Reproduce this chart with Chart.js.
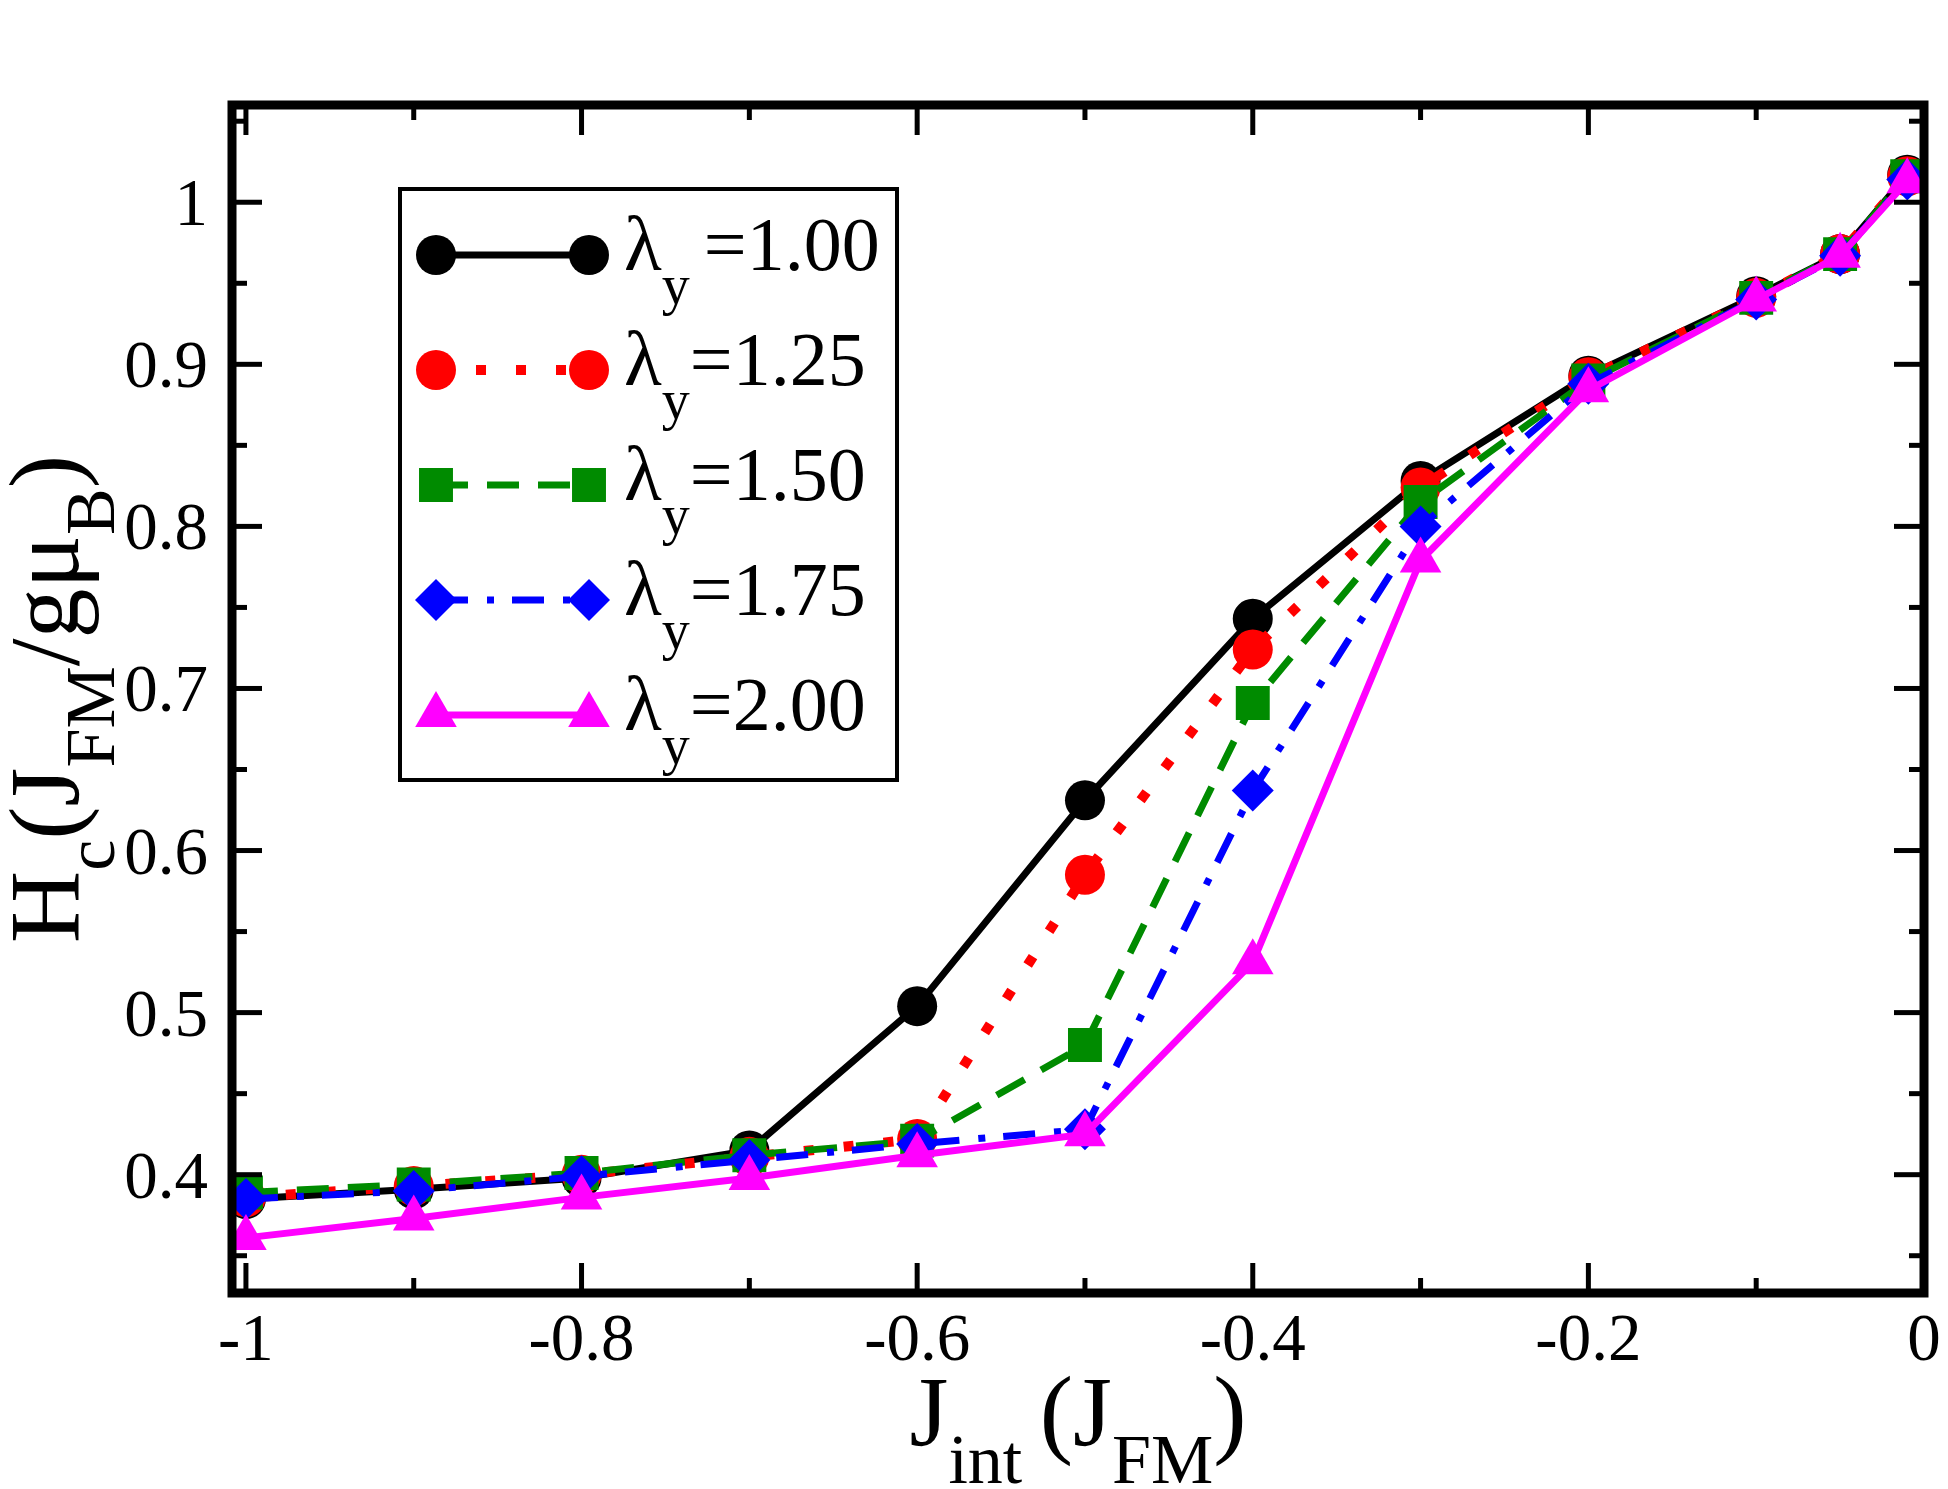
<!DOCTYPE html>
<html>
<head>
<meta charset="utf-8">
<script src="https://cdn.jsdelivr.net/npm/chart.js@4.4.0/dist/chart.umd.min.js"></script>
<style>
  html, body { margin: 0; padding: 0; background: #fff; }
  #wrap { width: 1948px; height: 1489px; }
</style>
</head>
<body>
<div id="wrap"><canvas id="myChart" width="1948" height="1489"></canvas></div>
<script>
// J_int values (x) and H_c for each lambda_y
const jInt  = [-1, -0.9, -0.8, -0.7, -0.6, -0.5, -0.4, -0.3, -0.2, -0.1, -0.05, -0.01];
const hc100 = [0.385, 0.391, 0.398, 0.415, 0.504, 0.631, 0.743, 0.828, 0.893, 0.942, 0.968, 1.017];
const hc125 = [0.386, 0.393, 0.400, 0.411, 0.422, 0.585, 0.724, 0.824, 0.892, 0.941, 0.968, 1.016];
const hc150 = [0.389, 0.394, 0.401, 0.412, 0.421, 0.480, 0.691, 0.815, 0.890, 0.941, 0.968, 1.016];
const hc175 = [0.385, 0.390, 0.399, 0.409, 0.419, 0.428, 0.637, 0.800, 0.888, 0.940, 0.967, 1.014];
const hc200 = [0.361, 0.373, 0.386, 0.398, 0.412, 0.425, 0.531, 0.779, 0.884, 0.940, 0.967, 1.013];

const lambdaNames = ['1.00', '1.25', '1.50', '1.75', '2.00'];

const xTicks = [-1, -0.8, -0.6, -0.4, -0.2, 0];
const xTickLabels = ['-1', '-0.8', '-0.6', '-0.4', '-0.2', '0'];
const xMinor = [-0.9, -0.7, -0.5, -0.3, -0.1];
const yTicks = [0.4, 0.5, 0.6, 0.7, 0.8, 0.9, 1];
const yTickLabels = ['0.4', '0.5', '0.6', '0.7', '0.8', '0.9', '1'];
const yMinor = [0.35, 0.45, 0.55, 0.65, 0.75, 0.85, 0.95, 1.05];

const serif = '"Liberation Serif", "DejaVu Serif", serif';

function toPoints(ys) {
    return jInt.map((x, i) => ({x: x, y: ys[i]}));
}

function line(ctx, x1, y1, x2, y2) {
    ctx.beginPath();
    ctx.moveTo(x1, y1);
    ctx.lineTo(x2, y2);
    ctx.stroke();
}

// parts: [text, fontSize, baselineShift]
function richWidth(ctx, parts) {
    let w = 0;
    parts.forEach(p => {
        ctx.font = p[1] + 'px ' + serif;
        w += ctx.measureText(p[0]).width;
    });
    return w;
}
function drawRich(ctx, parts, x, y) {
    let cx = x;
    parts.forEach(p => {
        ctx.font = p[1] + 'px ' + serif;
        ctx.fillText(p[0], cx, y + p[2]);
        cx += ctx.measureText(p[0]).width;
    });
}

function marker(ctx, style, r, x, y) {
    if (Chart.helpers && Chart.helpers.drawPoint) {
        Chart.helpers.drawPoint(ctx, {pointStyle: style, radius: r, rotation: 0, borderWidth: 0}, x, y);
        return;
    }
    ctx.beginPath();
    ctx.arc(x, y, r, 0, Math.PI * 2);
    ctx.fill();
}

const framePlugin = {
    id: 'frame',
    afterDatasetsDraw(chart) {
        const ctx = chart.ctx;
        const a = chart.chartArea;
        const xs = chart.scales.x;
        const ys = chart.scales.y;
        ctx.save();
        ctx.strokeStyle = '#000';
        ctx.fillStyle = '#000';
        ctx.setLineDash([]);
        ctx.lineCap = 'butt';

        // inward ticks on all four sides
        ctx.lineWidth = 5;
        xTicks.forEach(v => {
            const px = xs.getPixelForValue(v);
            line(ctx, px, a.bottom, px, a.bottom - 30);
            line(ctx, px, a.top, px, a.top + 30);
        });
        xMinor.forEach(v => {
            const px = xs.getPixelForValue(v);
            line(ctx, px, a.bottom, px, a.bottom - 15);
            line(ctx, px, a.top, px, a.top + 15);
        });
        yTicks.forEach(v => {
            const py = ys.getPixelForValue(v);
            line(ctx, a.left, py, a.left + 30, py);
            line(ctx, a.right, py, a.right - 30, py);
        });
        yMinor.forEach(v => {
            const py = ys.getPixelForValue(v);
            line(ctx, a.left, py, a.left + 15, py);
            line(ctx, a.right, py, a.right - 15, py);
        });

        ctx.lineWidth = 9;
        ctx.lineJoin = 'miter';
        ctx.strokeRect(a.left, a.top, a.right - a.left, a.bottom - a.top);

        // tick labels
        ctx.textBaseline = 'alphabetic';
        ctx.font = '67px ' + serif;
        ctx.textAlign = 'center';
        xTicks.forEach((v, i) => {
            ctx.fillText(xTickLabels[i], xs.getPixelForValue(v), a.bottom + 67);
        });
        ctx.textAlign = 'right';
        yTicks.forEach((v, i) => {
            ctx.fillText(yTickLabels[i], a.left - 24, ys.getPixelForValue(v) + 23);
        });

        // axis titles
        ctx.textAlign = 'left';
        const xTitle = [['J', 100, 0], ['int', 70, 38], [' ', 70, 0], ['(', 100, 0], ['J', 100, 0], ['FM', 70, 38], [')', 100, 0]];
        const xw = richWidth(ctx, xTitle);
        drawRich(ctx, xTitle, (a.left + a.right) / 2 - xw / 2, 1445);

        const yTitle = [['H', 100, 0], ['c', 70, 36], ['(', 100, 0], ['J', 100, 0], ['FM', 70, 36], ['/g\u03bc', 100, 0], ['B', 70, 36], [')', 100, 0]];
        const yw = richWidth(ctx, yTitle);
        ctx.save();
        ctx.translate(78, (a.top + a.bottom) / 2);
        ctx.rotate(-Math.PI / 2);
        drawRich(ctx, yTitle, -yw / 2, 0);
        ctx.restore();

        // legend box
        const lg = {left: 400, top: 189, right: 897, bottom: 780};
        ctx.fillStyle = '#fff';
        ctx.fillRect(lg.left, lg.top, lg.right - lg.left, lg.bottom - lg.top);
        ctx.strokeStyle = '#000';
        ctx.lineWidth = 4;
        ctx.strokeRect(lg.left, lg.top, lg.right - lg.left, lg.bottom - lg.top);

        chart.data.datasets.forEach((ds, i) => {
            const ry = 255 + i * 115;
            ctx.strokeStyle = ds.borderColor;
            ctx.lineWidth = ds.borderWidth;
            ctx.setLineDash(ds.borderDash || []);
            line(ctx, 436, ry, 589, ry);
            ctx.setLineDash([]);
            ctx.fillStyle = ds.pointBackgroundColor;
            marker(ctx, ds.pointStyle, ds.pointRadius, 436, ry);
            marker(ctx, ds.pointStyle, ds.pointRadius, 589, ry);
            ctx.fillStyle = '#000';
            const parts = [['\u03bb', 78, 0], ['y', 56, 34]];
            if (i === 0) parts.push([' ', 56, 0]);
            parts.push(['=' + lambdaNames[i], 76, 0]);
            drawRich(ctx, parts, 624, ry + 15);
        });
        ctx.restore();
    }
};

const ctx = document.getElementById('myChart');
new Chart(ctx, {
    type: 'line',
    data: {
        datasets: [
            {
                label: 'λy=1.00', data: toPoints(hc100),
                borderColor: '#000000', backgroundColor: '#000000',
                borderWidth: 7, pointStyle: 'circle', pointRadius: 20,
                pointBackgroundColor: '#000000', pointBorderWidth: 0, order: 5
            },
            {
                label: 'λy=1.25', data: toPoints(hc125),
                borderColor: '#ff0000', backgroundColor: '#ff0000',
                borderWidth: 10, borderDash: [10, 30], pointStyle: 'circle', pointRadius: 20,
                pointBackgroundColor: '#ff0000', pointBorderWidth: 0, order: 4
            },
            {
                label: 'λy=1.50', data: toPoints(hc150),
                borderColor: '#008b00', backgroundColor: '#008b00',
                borderWidth: 7, borderDash: [32, 19], pointStyle: 'rect', pointRadius: 24,
                pointBackgroundColor: '#008b00', pointBorderWidth: 0, order: 3
            },
            {
                label: 'λy=1.75', data: toPoints(hc175),
                borderColor: '#0000ff', backgroundColor: '#0000ff',
                borderWidth: 7, borderDash: [32, 19, 7, 18], pointStyle: 'rectRot', pointRadius: 21,
                pointBackgroundColor: '#0000ff', pointBorderWidth: 0, order: 2
            },
            {
                label: 'λy=2.00', data: toPoints(hc200),
                borderColor: '#ff00ff', backgroundColor: '#ff00ff',
                borderWidth: 7, pointStyle: 'triangle', pointRadius: 24,
                pointBackgroundColor: '#ff00ff', pointBorderWidth: 0, order: 1
            }
        ]
    },
    options: {
        responsive: false,
        devicePixelRatio: 1,
        animation: false,
        layout: {
            padding: {left: 232, right: 20, top: 105, bottom: 196}
        },
        plugins: {
            legend: {display: false},
            tooltip: {enabled: false}
        },
        elements: {
            line: {tension: 0, borderCapStyle: 'butt', borderJoinStyle: 'miter'}
        },
        scales: {
            x: {type: 'linear', min: -1.0083, max: 0, display: false},
            y: {type: 'linear', min: 0.327, max: 1.06, display: false}
        }
    },
    plugins: [framePlugin]
});
</script>
</body>
</html>
